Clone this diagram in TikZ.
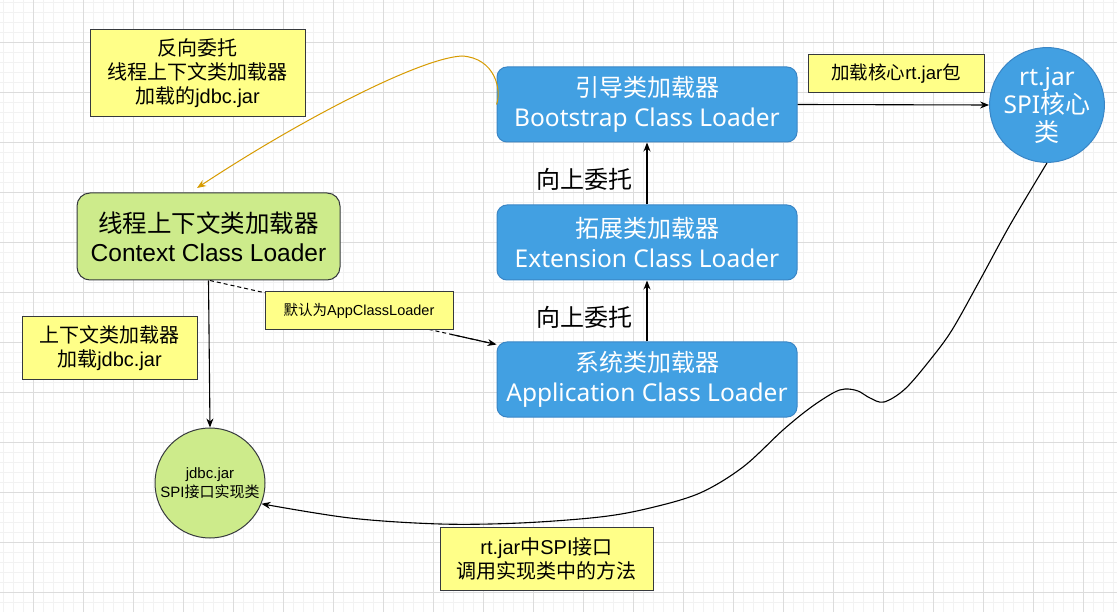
\documentclass[tikz,border=0pt]{standalone}
\usepackage{fontspec}
\setmainfont{Noto Sans CJK SC}
\newfontfamily\seg{Noto Sans}
\newfontfamily\ari{Liberation Sans}
\usetikzlibrary{arrows.meta,calc}
\definecolor{bluef}{HTML}{42A0E2}
\definecolor{blued}{HTML}{3A86C6}
\definecolor{greenf}{HTML}{CDEB8B}
\definecolor{yellowf}{HTML}{FFFF88}
\definecolor{darkline}{HTML}{36393D}
\definecolor{orangel}{HTML}{D79B00}
\definecolor{gridmaj}{HTML}{DCDCDC}
\definecolor{gridmin}{HTML}{F2F2F2}
\tikzset{
  bluebox/.style={draw=blued, fill=bluef, rounded corners=10pt, line width=1pt, text=white,
    minimum width=300pt, minimum height=75pt, inner sep=0pt, align=center,
    font=\fontsize{24}{30}\selectfont},
  greenbox/.style={draw=darkline, fill=greenf, rounded corners=13pt, line width=1pt,
    minimum width=263pt, minimum height=87pt, inner sep=0pt, align=center,
    font=\fontsize{24.5}{29}\selectfont},
  note/.style={draw=darkline, fill=yellowf, line width=1pt, inner sep=0pt, align=center},
  conn/.style={line width=1.1pt, -{Stealth[length=9pt,width=7pt]}},
  plain/.style={inner sep=0pt, align=center},
}
\newcommand{\lat}[1]{{\seg\fontsize{24.5}{30}\selectfont #1}}
\begin{document}
\begin{tikzpicture}[x=1pt,y=-1pt]
\useasboundingbox (0,0) rectangle (1117,612);
\fill[white] (0,0) rectangle (1117,612);
% grid
\foreach \x in {3,13,...,1113} \draw[gridmin, line width=0.6pt] (\x,0) -- (\x,612);
\foreach \y in {2,12,...,612} \draw[gridmin, line width=0.6pt] (0,\y) -- (1117,\y);
\foreach \x in {33,83,...,1083} \draw[gridmaj, line width=0.8pt] (\x,0) -- (\x,612);
\foreach \y in {42,92,...,592} \draw[gridmaj, line width=0.8pt] (0,\y) -- (1117,\y);

% main nodes
\node[bluebox] (boot) at (647,104.5) {引导类加载器\\\lat{Bootstrap Class Loader}};
\node[bluebox] (ext) at (647,242.5) {拓展类加载器\\\lat{Extension Class Loader}};
\node[bluebox] (app) at (647,379.5) {系统类加载器\\\lat{Application Class Loader}};
\node[circle, draw=blued, fill=bluef, line width=1pt, minimum size=100pt, inner sep=0pt,
  text=white, align=center, font=\fontsize{25}{28}\selectfont] (rt) at (1047,105) {\lat{rt.jar}\\\lat{SPI}核心\\类};
\node[greenbox] (ctx) at (208.5,236.5) {线程上下文类加载器\\{\ari Context Class Loader}};
\node[circle, draw=darkline, fill=greenf, line width=1pt, minimum size=110pt, inner sep=0pt,
  align=center, font=\fontsize{15}{19}\selectfont] (jdbc) at (210,483) {{\ari jdbc.jar}\\{\ari SPI}接口实现类};

% connectors
\draw[conn] (ext.north) -- (boot.south);
\draw[conn] (app.north) -- (ext.south);
\draw[conn] (boot.east) -- (rt.west);
\draw[conn] (ctx.south) -- (jdbc.north);
\draw[line width=1pt, dash pattern=on 4pt off 3pt] ([xshift=1.5pt]ctx.south) -- ([yshift=-3pt]app.north west);
\draw[conn] ($([xshift=1.5pt]ctx.south)!0.84!([yshift=-3pt]app.north west)$) -- ([yshift=-3pt]app.north west);
\draw[line width=1pt, draw=orangel, -{Stealth[length=9pt,width=7pt]}]
  (boot.west) .. controls (502,90) and (495,58) .. (462,56)
  .. controls (420,58) and (300,120) .. (197,188);
\draw[conn] plot[smooth, tension=0.55] coordinates {(rt.south) (1010,225) (980,280) (952,330) (930,360) (905,389) (884,402) (870,398) (858,391) (845,389) (833,393) (810,408) (783,430) (743,467) (700,493) (650,508) (600,517) (520,523) (440,524) (350,518) (jdbc.-22)};

% labels
\node[plain, font=\fontsize{24}{28}\selectfont] (up1) at (584,179) {向上委托};
\node[plain, font=\fontsize{24}{28}\selectfont] (up2) at (584,317) {向上委托};
\node[note, minimum width=215pt, minimum height=87pt, font=\fontsize{20}{24}\selectfont] (n1) at (197.5,73.5) {反向委托\\线程上下文类加载器\\加载的{\ari jdbc.jar}};
\node[note, minimum width=176pt, minimum height=38pt, font=\fontsize{18.5}{22}\selectfont] (n2) at (896,74) {加载核心{\ari rt.jar}包};
\node[note, minimum width=188pt, minimum height=38pt, font=\fontsize{14.5}{18}\selectfont] (n3) at (359,311) {默认为{\ari AppClassLoader}};
\node[note, minimum width=175pt, minimum height=63pt, font=\fontsize{20}{24}\selectfont] (n4) at (109.5,348.5) {上下文类加载器\\加载{\ari jdbc.jar}};
\node[note, minimum width=213pt, minimum height=63pt, font=\fontsize{20}{24}\selectfont] (n5) at (546.5,558.5) {{\ari rt.jar}中{\ari SPI}接口\\调用实现类中的方法};
\end{tikzpicture}
\end{document}
